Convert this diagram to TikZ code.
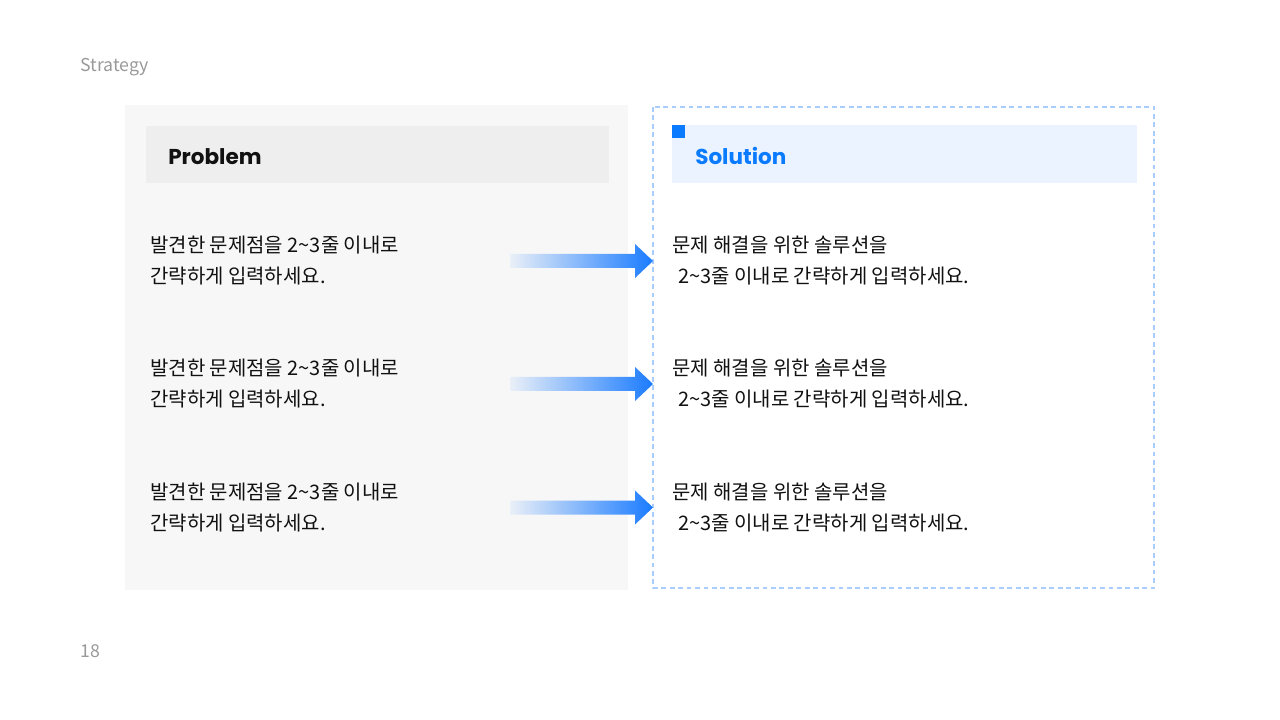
\documentclass[tikz,border=0pt]{standalone}
\usepackage{fontspec}
\setmainfont{Noto Sans CJK KR}
\newfontfamily\headfont{Poppins}
\usetikzlibrary{positioning,calc}
\definecolor{panelgray}{HTML}{F7F7F7}
\definecolor{headgray}{HTML}{EEEEEE}
\definecolor{headblue}{HTML}{EAF3FF}
\definecolor{dashblue}{HTML}{A9CDFF}
\definecolor{keyblue}{HTML}{0A7BFF}
\definecolor{arrowblue}{HTML}{1A7BFF}
\definecolor{textdark}{HTML}{111111}
\definecolor{labelgray}{HTML}{9A9A9A}

\begin{document}
\begin{tikzpicture}[x=0.025cm,y=-0.025cm,
    rowtext/.style={anchor=west,align=left,inner sep=0pt,text=textdark,
        font=\fontsize{14.2}{22}\selectfont},
    headtext/.style={anchor=west,inner sep=0pt,font=\headfont\bfseries\fontsize{15.3}{18}\selectfont},
    pagelabel/.style={anchor=west,inner sep=0pt,text=labelgray,font=\fontsize{12.6}{14}\selectfont},
    gradarrow/.style={left color=arrowblue!6!panelgray,right color=arrowblue,draw=none}]
    \useasboundingbox[fill=white] (0,0) rectangle (1280,720);

    % panels
    \fill[panelgray] (125,105) rectangle (628,590);
    \draw[dashblue,line width=1.3pt,dash pattern=on 3.4pt off 2.6pt] (653,107) rectangle (1154,588);
    \fill[headgray] (146,126) rectangle (609,183);
    \fill[headblue] (672,125) rectangle (1137,183);
    \fill[keyblue] (672,125) rectangle (685,138);

    \node[pagelabel] (title) at (80,67) {Strategy};
    \node[pagelabel] (page) at (80,651) {18};
    \node[headtext,text=textdark] (prob) at (168,157) {Problem};
    \node[headtext,text=keyblue] (sol) at (695,156) {Solution};

    \foreach \i/\y in {1/261,2/384,3/507.5}{
        \node[rowtext] (p\i) at (150,\y) {발견한 문제점을 2\textasciitilde3줄 이내로\\간략하게 입력하세요.};
        \node[rowtext] (s\i) at (672,\y) {문제 해결을 위한 솔루션을\\\hspace{0.3em}2\textasciitilde3줄 이내로 간략하게 입력하세요.};
        \coordinate (a\i) at (510,\y);
        \coordinate (b\i) at (653,\y);
        \shade[gradarrow] ($(a\i)+(0,-7)$) -- ($(b\i)+(-18,-7)$) -- ($(b\i)+(-18,-17)$)
            -- (b\i) -- ($(b\i)+(-18,17)$) -- ($(b\i)+(-18,7)$) -- ($(a\i)+(0,7)$) -- cycle;
    }
\end{tikzpicture}
\end{document}
